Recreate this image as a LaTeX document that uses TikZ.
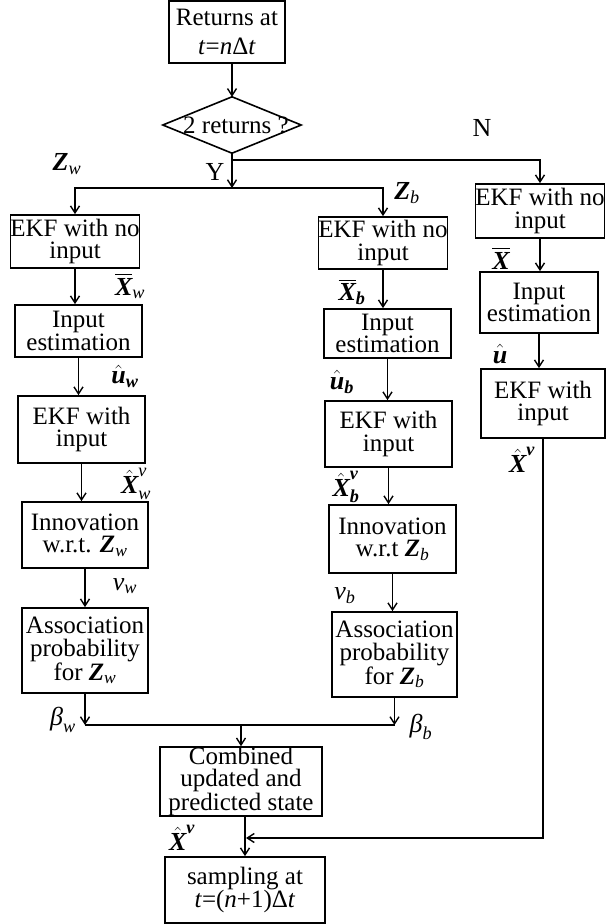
\documentclass[tikz,border=0pt]{standalone}
\usepackage{amsmath}
\usepackage{fontspec}
\setmainfont{Liberation Serif}
\usetikzlibrary{arrows.meta,calc}
\newcommand{\tb}[1]{\text{\bfseries\itshape #1}}
\newcommand{\ti}[1]{\text{\itshape #1}}
\begin{document}
\begin{tikzpicture}[x=1pt,y=-1pt,
  box/.style={draw,line width=1.7pt,inner sep=0pt,align=center,
    font=\fontsize{25}{22.5}\selectfont},
  lbl/.style={inner sep=0pt,font=\fontsize{26}{26}\selectfont},
  arr/.style={line width=1.6pt,-{Straight Barb[length=7pt,width=9pt,line width=1.4pt]}},
  ln/.style={line width=1.6pt}]
\useasboundingbox (0,0) rectangle (612,924);
% top
\node[box,minimum width=116pt,minimum height=62pt,font=\fontsize{25}{29}\selectfont] (T) at (227,32) {Returns at\\\textit{t}=\textit{n}Δ\textit{t}};
\node[inner sep=0pt,minimum width=138pt,minimum height=56pt] (dia) at (232,125) {};
\draw[ln] (dia.north) -- (dia.east) -- (dia.south) -- (dia.west) -- cycle;
\node[lbl,font=\fontsize{25}{25}\selectfont] (diat) at (236,125) {2 returns ?};
\draw[arr] (dia.north |- T.south) -- (dia.north);
% left column
\node[box,minimum width=126pt,minimum height=53pt] (L1) at (75,241.5) {EKF with no\\input};
\node[box,minimum width=127pt,minimum height=52pt] (L2) at (78.5,331) {Input\\estimation};
\node[box,minimum width=127pt,minimum height=67pt] (L3) at (81.5,429.5) {EKF with\\input};
\node[box,minimum width=126pt,minimum height=66pt] (L4) at (85,535) {Innovation\\w.r.t. $\tb{Z}_{\ti{w}}$};
\node[box,minimum width=126pt,minimum height=85pt] (L5) at (85,650.5) {Association\\probability\\for $\tb{Z}_{\ti{w}}$};
% middle column
\node[box,minimum width=128pt,minimum height=52pt] (M1) at (383,243) {EKF with no\\input};
\node[box,minimum width=127pt,minimum height=49pt] (M2) at (387.5,333.5) {Input\\estimation};
\node[box,minimum width=127pt,minimum height=66pt] (M3) at (388.5,434) {EKF with\\input};
\node[box,minimum width=127pt,minimum height=68pt] (M4) at (392.5,539) {Innovation\\w.r.t $\tb{Z}_{\ti{b}}$};
\node[box,minimum width=125pt,minimum height=85pt] (M5) at (394.5,654.5) {Association\\probability\\for $\tb{Z}_{\ti{b}}$};
% right column
\node[box,minimum width=128pt,minimum height=54pt] (R1) at (540,211) {EKF with no\\input};
\node[box,minimum width=118pt,minimum height=61pt] (R2) at (539,302.5) {Input\\estimation};
\node[box,minimum width=124pt,minimum height=69pt] (R3) at (543,403.5) {EKF with\\input};
% bottom
\node[box,minimum width=162pt,minimum height=67pt] (C) at (241,781.5) {Combined\\updated and\\predicted state};
\node[box,minimum width=160pt,minimum height=66pt] (S) at (245,890) {sampling at\\\textit{t}=(\textit{n}+1)Δ\textit{t}};
% branch coordinates
\coordinate (nbr) at (232,160);
\coordinate (ybr) at (232,188);
\coordinate (jn) at (0,725);
\coordinate (rj) at (246,838);
% connectors top
\draw[arr] (dia.south) -- (ybr);
\draw[ln] (nbr) -| ($(R1.north)+(0,-1)$);
\draw[arr] ($(R1.north |- nbr)$) -- (R1.north);
\draw[arr] (ybr) -| (L1.north);
\draw[arr] (ybr) -| (M1.north);
% left chain
\draw[arr] (L1.south) -- (L1.south |- L2.north);
\draw[arr] (L2.south) -- (L2.south |- L3.north);
\draw[arr] (L3.south) -- (L3.south |- L4.north);
\draw[arr] (L4.south) -- (L4.south |- L5.north);
% middle chain
\draw[arr] (M1.south) -- (M1.south |- M2.north);
\draw[arr] (M2.south) -- (M2.south |- M3.north);
\draw[arr] (M3.south) -- (M3.south |- M4.north);
\draw[arr] (M4.south) -- (M4.south |- M5.north);
% right chain
\draw[arr] (R1.south) -- (R1.south |- R2.north);
\draw[arr] (R2.south) -- (R2.south |- R3.north);
% join
\draw[arr] (L5.south) -- (L5.south |- jn);
\draw[arr] (M5.south) -- (M5.south |- jn);
\draw[ln] (L5.south |- jn) -- (M5.south |- jn);
\draw[arr] (C.north |- jn) -- (C.north);
\draw[arr] (S.north |- C.south) -- (S.north);
\draw[arr] (R3.south) |- (rj);
% labels
\node[lbl] (lY) at (215,172) {Y};
\node[lbl] (lN) at (482,128) {N};
\node[lbl] (lZw) at (67,164) {$\tb{Z}_{\ti{w}}$};
\node[lbl] (lZb) at (407,193) {$\tb{Z}_{\ti{b}}$};
\node[lbl] (lXw) at (130,286) {$\overline{\tb{X}}_{\ti{w}}$};
\node[lbl] (luw) at (125,376) {$\hat{\tb{u}}_{\tb{w}}$};
\node[lbl] (lXvw) at (136,484) {$\hat{\tb{X}}^{\ti{v}}_{\ti{w}}$};
\node[lbl] (lnw) at (125,586) {$\ti{ν}_{\ti{w}}$};
\node[lbl] (lbw) at (63,720) {$\ti{β}_{\ti{w}}$};
\node[lbl] (lXb) at (352,292) {$\overline{\tb{X}}_{\tb{b}}$};
\node[lbl] (lub) at (342,382) {$\hat{\tb{u}}_{\tb{b}}$};
\node[lbl] (lXvb) at (346,487) {$\hat{\tb{X}}^{\tb{v}}_{\tb{b}}$};
\node[lbl] (lnb) at (345,596) {$\ti{ν}_{\ti{b}}$};
\node[lbl] (lbb) at (421,727) {$\ti{β}_{\ti{b}}$};
\node[lbl] (lX) at (501,258) {$\overline{\tb{X}}$};
\node[lbl] (lu) at (500,354) {$\hat{\tb{u}}$};
\node[lbl] (lXv) at (522,460) {$\hat{\tb{X}}^{\tb{v}}$};
\node[lbl] (lXvc) at (182,838) {$\hat{\tb{X}}^{\tb{v}}$};
\end{tikzpicture}
\end{document}
